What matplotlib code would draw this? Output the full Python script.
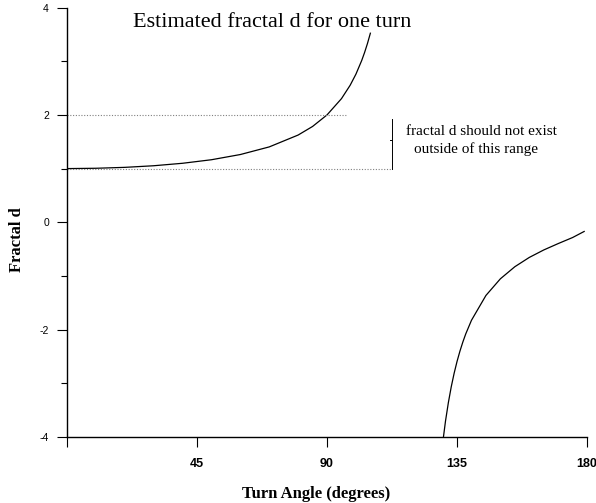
import matplotlib
matplotlib.use("Agg")
import matplotlib.pyplot as plt

# branch below 120 degrees
angle_lo = [0, 10, 20, 30, 40, 50, 60, 70, 80, 85, 90, 95, 98, 100, 102, 103, 104, 105]
d_lo = [1.0, 1.006, 1.023, 1.053, 1.099, 1.165, 1.262, 1.404, 1.625, 1.785,
        2.0, 2.303, 2.552, 2.759, 3.013, 3.163, 3.331, 3.522]

# branch above 120 degrees
angle_hi = [130, 131, 132, 133, 134, 135, 136, 137, 138, 140, 145, 150, 155,
            160, 165, 170, 175, 179]
d_hi = [-4.122, -3.705, -3.358, -3.063, -2.811, -2.592, -2.401, -2.232, -2.081,
        -1.825, -1.363, -1.053, -0.828, -0.655, -0.516, -0.397, -0.284, -0.171]

x_ticks = [0, 45, 90, 135, 180]
x_labels = ["", "45", "90", "135", "180"]
y_ticks = [-4, -2, 0, 2, 4]
y_minor = [-3, -1, 1, 3]

serif = "Liberation Serif"
sans = "Liberation Sans"

fig = plt.figure(figsize=(5.96, 5.03), dpi=100)
ax = fig.add_axes([0.1124, 0.1312, 0.8726, 0.8538])

ax.plot(angle_lo, d_lo, color="black", lw=0.9)
ax.plot(angle_hi, d_hi, color="black", lw=0.9)

# limits of a valid fractal d
ax.plot([0, 96.5], [2, 2], color="gray", lw=0.8, ls=(0, (1, 1.5)))
ax.plot([0, 112.5], [1, 1], color="gray", lw=0.8, ls=(0, (1, 1.5)))
ax.plot([112.5, 112.5], [1.0, 1.92], color="black", lw=0.7)
ax.plot([111.8, 112.5], [1.53, 1.53], color="black", lw=0.7)

ax.text(117.5, 1.69, "fractal d should not exist", fontfamily=serif,
        fontsize=11, va="center")
ax.text(120, 1.36, "outside of this range", fontfamily=serif,
        fontsize=11, va="center")
ax.text(71, 3.73, "Estimated fractal d for one turn", fontfamily=serif,
        fontsize=16, ha="center", va="center")

ax.set_xlim(0, 180)
ax.set_ylim(-4, 4)
ax.set_xticks(x_ticks)
ax.set_xticklabels(x_labels, fontfamily=sans, fontweight="bold", fontsize=9)
ax.set_yticks(y_ticks)
ax.set_yticks(y_minor, minor=True)
ax.set_yticklabels([str(v) for v in y_ticks], fontfamily=sans, fontsize=7.5)
ax.tick_params(axis="both", direction="out", length=7, width=0.8, pad=6)
ax.tick_params(axis="x", pad=8)
ax.tick_params(axis="y", which="minor", length=4, width=0.8)

for s in ["top", "right"]:
    ax.spines[s].set_visible(False)
for s in ["left", "bottom"]:
    ax.spines[s].set_linewidth(1.0)

ax.set_xlabel("Turn Angle (degrees)", fontfamily=serif, fontweight="bold",
              fontsize=12)
ax.set_ylabel("Fractal d", fontfamily=serif, fontweight="bold", fontsize=12)
ax.xaxis.set_label_coords(0.48, -0.115)
ax.yaxis.set_label_coords(-0.081, 0.459)

fig.savefig("out.png", dpi=100)
